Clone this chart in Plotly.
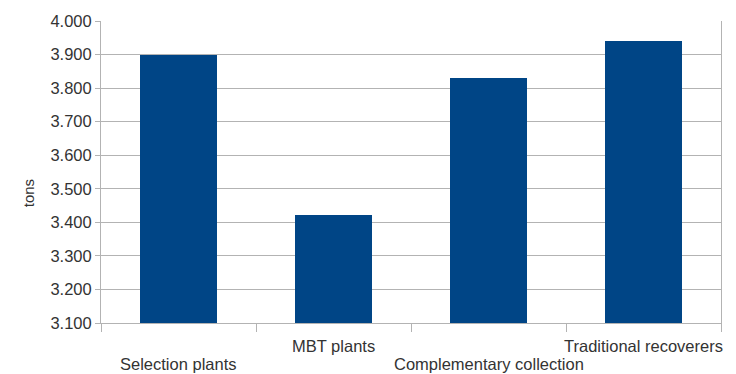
import plotly.graph_objects as go

categories = ["Selection plants", "MBT plants", "Complementary collection", "Traditional recoverers"]
values = [3.900, 3.423, 3.831, 3.941]
y_ticks = [3.1, 3.2, 3.3, 3.4, 3.5, 3.6, 3.7, 3.8, 3.9, 4.0]
y_tick_labels = ["3.100", "3.200", "3.300", "3.400", "3.500", "3.600", "3.700", "3.800", "3.900", "4.000"]

FONT = "Liberation Sans, Arial, sans-serif"
TEXT = "#333333"
GRID = "#b3b3b3"

x_pos = list(range(len(categories)))

fig = go.Figure(go.Bar(
    x=x_pos,
    y=[v - 3.1 for v in values],
    base=3.1,
    width=0.5,
    marker=dict(color="#004586", line=dict(width=0)),
))

# category labels, staggered on two rows
annotations = []
for i, name in enumerate(categories):
    annotations.append(dict(
        x=i, xref="x", y=0, yref="paper",
        text=name, showarrow=False,
        yanchor="middle",
        yshift=-41 if i % 2 == 0 else -23,
        font=dict(family=FONT, size=16.5, color=TEXT),
    ))
annotations.append(dict(
    x=-0.134, xref="paper", y=0.431, yref="paper",
    text="tons", textangle=-90, showarrow=False,
    font=dict(family=FONT, size=15, color=TEXT),
))

fig.update_layout(
    width=736, height=374,
    margin=dict(l=101, r=15, t=19, b=51),
    paper_bgcolor="white", plot_bgcolor="white",
    showlegend=False,
    bargap=0,
    annotations=annotations,
    xaxis=dict(
        range=[-0.5, len(categories) - 0.5],
        tickmode="array",
        tickvals=[i - 0.5 for i in range(len(categories) + 1)],
        ticktext=[""] * (len(categories) + 1),
        ticks="outside", ticklen=8, tickcolor=GRID,
        showgrid=False, zeroline=False,
        showline=True, linecolor=GRID, linewidth=1,
    ),
    yaxis=dict(
        range=[3.1, 4.0],
        tickmode="array",
        tickvals=y_ticks,
        ticktext=y_tick_labels,
        ticks="outside", ticklen=5, tickcolor=GRID,
        showgrid=True, gridcolor=GRID, gridwidth=1,
        zeroline=False,
        showline=True, linecolor=GRID, linewidth=1, mirror=True,
        tickfont=dict(family=FONT, size=16.5, color=TEXT),
    ),
)

fig.write_html("out.html")
